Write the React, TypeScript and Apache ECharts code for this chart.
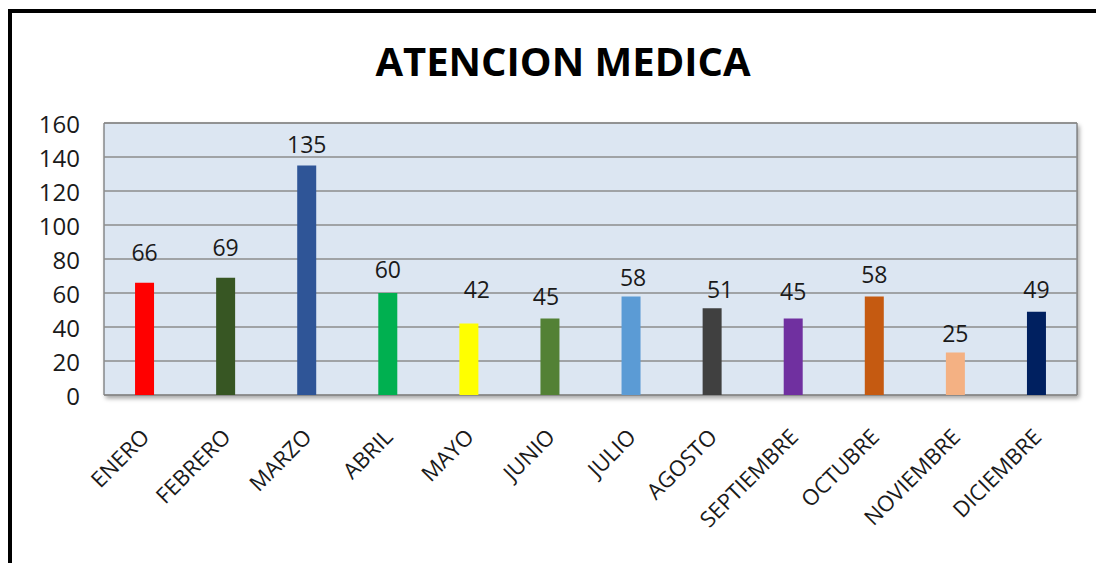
import React, { useEffect, useRef } from "react";
import * as echarts from "echarts";

const categories = ["ENERO", "FEBRERO", "MARZO", "ABRIL", "MAYO", "JUNIO", "JULIO", "AGOSTO", "SEPTIEMBRE", "OCTUBRE", "NOVIEMBRE", "DICIEMBRE"];
const values = [66, 69, 135, 60, 42, 45, 58, 51, 45, 58, 25, 49];
const barColors = ["#FF0000", "#375623", "#2F5597", "#00B050", "#FFFF00", "#538135", "#5B9BD5", "#404040", "#7030A0", "#C55A11", "#F4B183", "#002060"];
const titleText = "ATENCION MEDICA";
// manual label placement as in the reference (style only)
const labelDistances = [19, 19, 10, 13, 23, 11, 8, 8, 16, 11, 8, 11];
const labelShiftX = [0, 0, 0, 0, 8, -4, 2, 8, 0, 0, 0, 0];

export default function App() {
  const ref = useRef<HTMLDivElement>(null);
  useEffect(() => {
    if (!ref.current) return;
    const chart = echarts.init(ref.current, undefined, { renderer: "svg" });
    const font = "'Open Sans', 'Noto Sans', sans-serif";
    chart.setOption({
      animation: false,
      backgroundColor: "#FFFFFF",
      title: {
        text: titleText,
        left: 558,
        textAlign: "center",
        top: 35,
        textStyle: { fontFamily: font, fontWeight: "bold", fontSize: 40, color: "#000000" },
      },
      graphic: [
        {
          type: "rect",
          shape: { x: 10, y: 11, width: 1200, height: 700 },
          style: { fill: "none", stroke: "#000000", lineWidth: 4 },
          silent: true,
        },
      ],
      grid: {
        left: 104,
        right: 19,
        top: 123,
        bottom: 168,
        show: true,
        backgroundColor: "#DCE6F2",
        borderColor: "#595959",
        borderWidth: 1,
        shadowColor: "rgba(0,0,0,0.35)",
        shadowBlur: 4,
        shadowOffsetX: 2,
        shadowOffsetY: 3,
      },
      xAxis: {
        type: "category",
        data: categories,
        axisLine: { show: false },
        axisTick: { show: false },
        axisLabel: {
          rotate: 45,
          interval: 0,
          margin: 37,
          fontFamily: font,
          fontSize: 22,
          color: "#1a1a1a",
        },
      },
      yAxis: {
        type: "value",
        min: 0,
        max: 160,
        interval: 20,
        axisLine: { show: false },
        axisTick: { show: false },
        axisLabel: { margin: 24, fontFamily: font, fontSize: 24, color: "#1a1a1a" },
        splitLine: { lineStyle: { color: "#8C8C8C", width: 1.5 } },
      },
      series: [
        {
          type: "bar",
          data: values.map((v, i) => ({
            value: v,
            itemStyle: { color: barColors[i] },
            label: { distance: labelDistances[i], offset: [labelShiftX[i], 0] },
          })),
          barWidth: 19,
          label: {
            show: true,
            position: "top",
            fontFamily: font,
            fontSize: 23,
            color: "#1a1a1a",
          },
        },
      ],
    });
    return () => chart.dispose();
  }, []);
  return <div ref={ref} style={{ position: "fixed", left: 0, top: 0, width: 1096, height: 563 }} />;
}
